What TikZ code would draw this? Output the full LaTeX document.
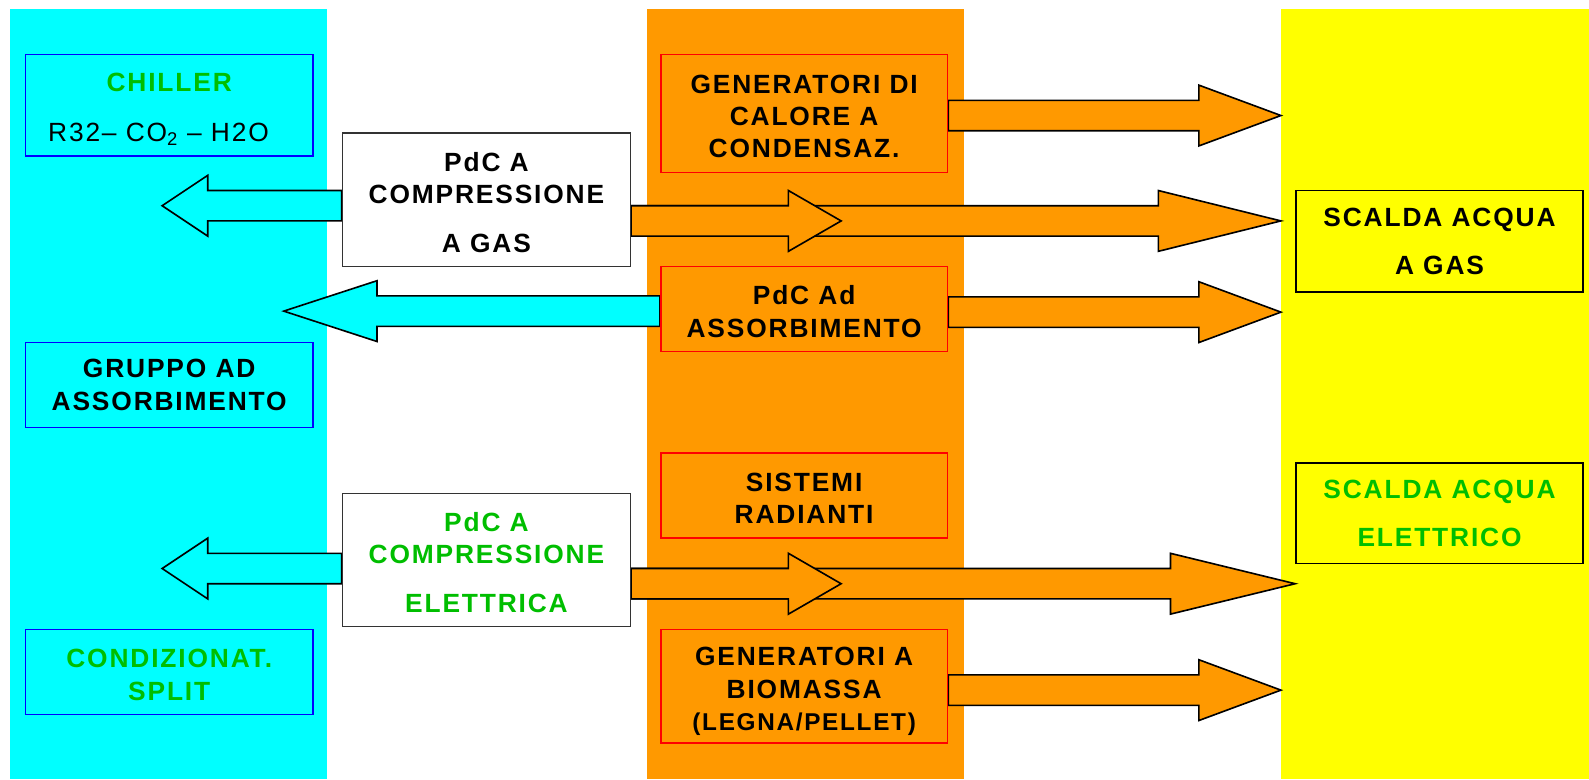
\documentclass[tikz,border=0pt]{standalone}
\usepackage{fontspec}
\setmainfont{Liberation Sans}[LetterSpace=7]
\usetikzlibrary{calc}
\definecolor{cyanb}{RGB}{0,255,255}
\definecolor{orangeb}{RGB}{255,153,0}
\definecolor{yellowb}{RGB}{255,255,0}
\definecolor{tgreen}{RGB}{0,190,0}
\definecolor{bblue}{RGB}{0,0,255}
\definecolor{rred}{RGB}{255,0,0}
\pgfdeclarelayer{bandlayer}
\pgfdeclarelayer{arrowlayer}
\pgfsetlayers{bandlayer,arrowlayer,main}
\newcommand\tp{\rule{0pt}{24pt}}
\newcommand\blockarrow[4]{%
  \draw[#1] ($(#2)+(0,-15)$) -- ($(#3)+({-(#4)},-15)$) -- ($(#3)+({-(#4)},-30)$) -- (#3)
    -- ($(#3)+({-(#4)},30)$) -- ($(#3)+({-(#4)},15)$) -- ($(#2)+(0,15)$) -- cycle;}
\tikzset{
  box/.style={draw, line width=1.5pt, minimum width=284pt, inner sep=0pt, align=center,
    font=\bfseries\fontsize{26}{32}\selectfont},
  cbox/.style={box, draw=bblue, fill=cyanb},
  obox/.style={box, draw=rred, fill=orangeb, minimum width=283pt},
  wbox/.style={box, draw=black!80, fill=white},
  ybox/.style={box, draw=black, fill=yellowb, minimum width=283pt},
  carrow/.style={draw=black, fill=cyanb, line width=1.6pt},
  oarrow/.style={draw=black, fill=orangeb, line width=1.6pt},
}
\begin{document}
\begin{tikzpicture}[x=1pt,y=-1pt]
\useasboundingbox (0,0) rectangle (1568,769);
\begin{pgfonlayer}{bandlayer}
\fill[white] (0,0) rectangle (1568,769);
\fill[cyanb] (10,9) rectangle (323,769);
\fill[orangeb] (638,9) rectangle (951,769);
\fill[yellowb] (1264,9) rectangle (1568,769);
\end{pgfonlayer}
% boxes
\node[cbox, minimum height=100pt] (chiller) at (167,104) {};
\node[font=\bfseries\fontsize{26}{32}\selectfont, text=tgreen] (chillerT) at (167,81) {CHILLER};
\node[anchor=base west, font=\fontsize{26}{32}\selectfont] (chillerF) at (44,139.5) {R32– CO\textsubscript{2} – H2O};
\node[cbox, minimum height=84pt] (gruppo) at (167,380) {GRUPPO AD\\ASSORBIMENTO};
\node[cbox, minimum height=84pt, text=tgreen] (condiz) at (167,663) {\tp CONDIZIONAT.\\SPLIT};
\node[wbox, minimum height=132pt] (pdcgas) at (480,197) {\tp PdC A\\COMPRESSIONE\\[16pt]A GAS};
\node[wbox, minimum height=131pt, text=tgreen] (pdcel) at (480,552.5) {\tp PdC A\\COMPRESSIONE\\[16pt]ELETTRICA};
\node[obox, minimum height=116pt] (gencond) at (793.5,112) {\tp GENERATORI DI\\CALORE A\\CONDENSAZ.};
\node[obox, minimum height=84pt] (pdcad) at (793.5,305) {\tp PdC Ad\\ASSORBIMENTO};
\node[obox, minimum height=84pt] (sistemi) at (793.5,489) {\tp SISTEMI\\RADIANTI};
\node[obox, minimum height=112pt] (biomassa) at (793.5,677) {\tp GENERATORI A\\BIOMASSA\\{\fontsize{24}{33}\selectfont \smash{(LEGNA/PELLET)}}};
\node[ybox, minimum height=100pt] (scgas) at (1420.5,238) {SCALDA ACQUA\\[15pt]A GAS};
\node[ybox, minimum height=99pt, text=tgreen] (scel) at (1420.5,506.5) {SCALDA ACQUA\\[15pt]ELETTRICO};
% arrow tips
\coordinate (tipA) at (160,203);
\coordinate (tipB) at (280,307);
\coordinate (tipC) at (160,561);
\coordinate (tipD) at (1264,114);
\coordinate (tipE) at (1264,218);
\coordinate (tipEs) at (830,218);
\coordinate (tipF) at (1264,308);
\coordinate (tipG) at (1278,576);
\coordinate (tipGs) at (830,576);
\coordinate (tipH) at (1264,681);
\coordinate (sA) at (pdcgas.west |- tipA);
\coordinate (sB) at (pdcad.west |- tipB);
\coordinate (sC) at (pdcel.west |- tipC);
\coordinate (sD) at (gencond.east |- tipD);
\coordinate (sE) at (pdcgas.east |- tipE);
\coordinate (sF) at (pdcad.east |- tipF);
\coordinate (sG) at (pdcel.east |- tipG);
\coordinate (sH) at (biomassa.east |- tipH);
\begin{pgfonlayer}{arrowlayer}
\blockarrow{carrow}{sA}{tipA}{-45}
\blockarrow{carrow}{sB}{tipB}{-92}
\blockarrow{carrow}{sC}{tipC}{-45}
\blockarrow{oarrow}{sD}{tipD}{81}
\blockarrow{oarrow}{sE}{tipE}{121}
\blockarrow{oarrow}{sE}{tipEs}{52}
\blockarrow{oarrow}{sF}{tipF}{81}
\blockarrow{oarrow}{sG}{tipG}{123}
\blockarrow{oarrow}{sG}{tipGs}{52}
\blockarrow{oarrow}{sH}{tipH}{81}
\end{pgfonlayer}
\end{tikzpicture}
\end{document}
